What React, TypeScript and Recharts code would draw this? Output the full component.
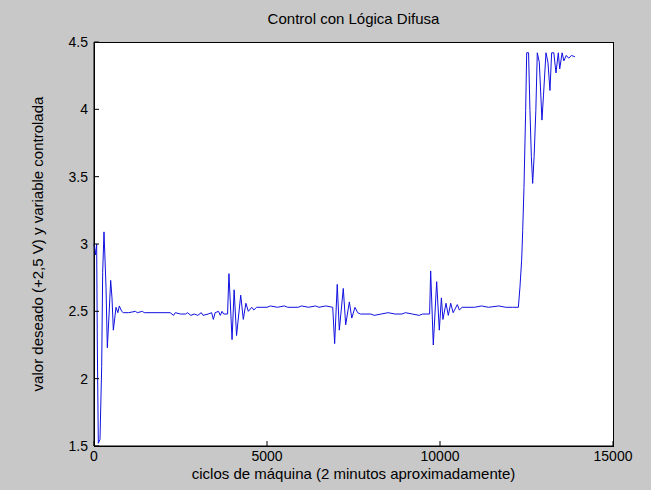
import { LineChart, Line, XAxis, YAxis, Label } from "recharts";

// machine cycles and controlled variable (V)
const cycles = [
  0, 40, 77, 96, 125, 173, 222, 251, 289, 347, 385, 430, 482, 520, 559, 600, 636, 690, 732, 800, 848,
  1000, 1200, 1250, 1400, 1450, 2200,
  2300, 2350, 2500, 2650, 2700, 2800, 2900, 3000, 3100, 3150, 3300, 3400, 3450, 3500, 3600, 3650, 3700, 3750, 3860,
  3900, 3990, 4050, 4120, 4240, 4315, 4390, 4460, 4560, 4620, 4700,
  5000, 5100, 5300, 5500, 5600, 5900, 6000, 6200, 6400, 6500, 6700, 6900,
  6955, 7030, 7090, 7205, 7274, 7380, 7450, 7543, 7620, 7700,
  8000, 8100, 8300, 8500, 8700, 8900, 9000, 9200, 9400, 9500, 9700,
  9730, 9806, 9904, 9980, 10040, 10085, 10173, 10240, 10309, 10380, 10500, 10560, 10640,
  11000, 11200, 11400, 11700, 11900, 12100, 12265,
  12311, 12360, 12390, 12427, 12476, 12505, 12560, 12600, 12640, 12678, 12720, 12770, 12812, 12870,
  12947, 12990, 13063, 13120, 13178, 13227, 13290, 13352, 13419, 13460, 13530, 13580, 13650, 13720,
  13800, 13900,
];

const voltage = [
  3.0, 2.92, 3.0, 2.25, 1.52, 1.55, 2.09, 2.79, 3.09, 2.68, 2.23, 2.45, 2.73, 2.6, 2.36, 2.45, 2.53, 2.49, 2.54, 2.5, 2.49,
  2.49, 2.5, 2.49, 2.5, 2.49, 2.49,
  2.47, 2.49, 2.48, 2.48, 2.49, 2.47, 2.48, 2.47, 2.49, 2.47, 2.48, 2.49, 2.44, 2.49, 2.5, 2.47, 2.5, 2.48, 2.48,
  2.78, 2.29, 2.66, 2.32, 2.62, 2.44, 2.56, 2.5, 2.53, 2.51, 2.53,
  2.53, 2.54, 2.53, 2.54, 2.53, 2.53, 2.54, 2.53, 2.54, 2.53, 2.54, 2.53,
  2.26, 2.7, 2.36, 2.67, 2.4, 2.57, 2.45, 2.53, 2.49, 2.48,
  2.48, 2.47, 2.48, 2.49, 2.48, 2.48, 2.49, 2.48, 2.47, 2.48, 2.48,
  2.8, 2.25, 2.72, 2.36, 2.6, 2.44, 2.56, 2.47, 2.56, 2.49, 2.55, 2.51, 2.53,
  2.53, 2.54, 2.53, 2.54, 2.53, 2.53, 2.53,
  2.68, 2.88, 3.1, 3.42, 3.99, 4.42, 4.42, 3.99, 3.65, 3.45, 3.65, 3.99, 4.42, 4.35,
  3.92, 4.1, 4.42, 4.35, 4.14, 4.42, 4.42, 4.27, 4.42, 4.3, 4.42, 4.36, 4.4, 4.38,
  4.4, 4.39,
];

const xTicks = [0, 5000, 10000, 15000];
const yTicks = [1.5, 2, 2.5, 3, 3.5, 4, 4.5];

const data = cycles.map((c, i) => ({ c, v: voltage[i] }));

const font = "'Liberation Sans', Arial, Helvetica, sans-serif";
const tickStyle = { fill: "#000", fontSize: 14, fontFamily: font };
const black = { stroke: "#000", strokeWidth: 1 };

export default function App() {
  return (
    <div
      style={{
        position: "absolute",
        left: 0,
        top: 0,
        width: 651,
        height: 490,
        background: "#c8c8c8",
        fontFamily: font,
      }}
    >
      {/* white plot box with frame */}
      <div
        style={{
          position: "absolute",
          left: 94,
          top: 42,
          width: 520,
          height: 405,
          boxSizing: "border-box",
          background: "#fff",
          border: "1px solid #000",
        }}
      />
      <div
        style={{
          position: "absolute",
          left: 94,
          width: 519,
          top: 10,
          textAlign: "center",
          fontSize: 15,
          color: "#000",
        }}
      >
        Control con Lógica Difusa
      </div>
      <div style={{ position: "absolute", left: 0, top: 0 }}>
        <LineChart width={651} height={490} data={data} margin={{ top: 42, right: 38, bottom: 0, left: 0 }}>
          <XAxis
            xAxisId="b"
            dataKey="c"
            type="number"
            domain={[0, 15000]}
            ticks={xTicks}
            interval={0}
            height={44}
            tickSize={-5}
            tickMargin={10}
            axisLine={black}
            tickLine={black}
            tick={tickStyle}
          >
            <Label
              value="ciclos de máquina (2 minutos aproximadamente)"
              position="insideBottom"
              offset={11}
              fill="#000"
              fontSize={15}
              fontFamily={font}
            />
          </XAxis>
          <XAxis
            xAxisId="t"
            orientation="top"
            dataKey="c"
            type="number"
            domain={[0, 15000]}
            ticks={xTicks}
            interval={0}
            height={0}
            tickSize={-5}
            tickFormatter={() => ""}
            axisLine={black}
            tickLine={black}
          />
          <YAxis
            yAxisId="l"
            type="number"
            domain={[1.5, 4.5]}
            ticks={yTicks}
            interval={0}
            width={94}
            tickSize={-5}
            tickMargin={11}
            axisLine={black}
            tickLine={black}
            tick={tickStyle}
          >
            <Label
              value="valor deseado (+2,5 V) y variable controlada"
              angle={-90}
              position="insideLeft"
              offset={38}
              fill="#000"
              fontSize={15}
              fontFamily={font}
              style={{ textAnchor: "middle" }}
            />
          </YAxis>
          <YAxis
            yAxisId="r"
            orientation="right"
            type="number"
            domain={[1.5, 4.5]}
            ticks={yTicks}
            interval={0}
            width={0}
            tickSize={-5}
            tickFormatter={() => ""}
            axisLine={black}
            tickLine={black}
          />
          <Line
            xAxisId="b"
            yAxisId="l"
            type="linear"
            dataKey="v"
            stroke="#1010e0"
            strokeWidth={1}
            dot={false}
            isAnimationActive={false}
          />
          <Line
            xAxisId="t"
            yAxisId="r"
            type="linear"
            dataKey="v"
            stroke="none"
            dot={false}
            isAnimationActive={false}
          />
        </LineChart>
      </div>
    </div>
  );
}
